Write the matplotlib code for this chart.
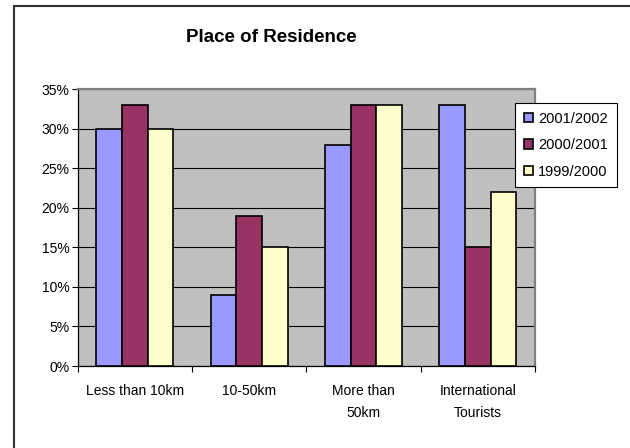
import numpy as np
import matplotlib
matplotlib.use("Agg")
import matplotlib.pyplot as plt
from matplotlib.patches import Rectangle
from matplotlib.ticker import PercentFormatter, FixedLocator

plt.rcParams['font.family'] = ['Liberation Sans', 'DejaVu Sans']

categories = ["Less than 10km", "10-50km", "More than\n50km", "International\nTourists"]
seasons = ["2001/2002", "2000/2001", "1999/2000"]
share_2001 = [30, 9, 28, 33]
share_2000 = [33, 19, 33, 15]
share_1999 = [30, 15, 33, 22]
colors = ["#9999FF", "#993366", "#FFFFCC"]

fig = plt.figure(figsize=(6.3, 4.48), dpi=100)
ax = fig.add_axes([77.7 / 630, 1 - 366 / 448, 457.3 / 630, 276.7 / 448])
ax.set_facecolor("#C0C0C0")

x = np.arange(len(categories))
w = 0.224
for i, (vals, c, lab) in enumerate(zip([share_2001, share_2000, share_1999], colors, seasons)):
    ax.bar(x + (i - 1) * w, vals, width=w, color=c, edgecolor="black",
           linewidth=1.2, label=lab, zorder=3)

ax.set_xlim(-0.5, len(categories) - 0.5)
ax.set_ylim(0, 35)
ax.set_yticks(np.arange(0, 36, 5))
ax.yaxis.set_major_formatter(PercentFormatter(decimals=0))
ax.yaxis.grid(True, color="black", linewidth=0.8, zorder=1)
ax.set_axisbelow(True)

ax.set_xticks(x)
ax.set_xticklabels(categories, fontsize=10, linespacing=1.75)
ax.xaxis.set_minor_locator(FixedLocator(np.arange(-0.5, len(categories), 1)))
ax.tick_params(axis="x", which="major", length=0, pad=13)
ax.tick_params(axis="x", which="minor", length=4, width=0.8, direction="out")
ax.tick_params(axis="y", length=4, width=0.8, pad=2, labelsize=10)

for s in ["top", "right"]:
    ax.spines[s].set_color("#808080")
    ax.spines[s].set_linewidth(1.6)
for s in ["left", "bottom"]:
    ax.spines[s].set_color("black")
    ax.spines[s].set_linewidth(0.9)

fig.text(271 / 630, 1 - 37 / 448, "Place of Residence", ha="center", va="center",
         fontsize=13.5, fontweight="bold")

leg = ax.legend(loc="upper left", bbox_to_anchor=(515 / 630, 1 - 103 / 448),
                bbox_transform=fig.transFigure, borderaxespad=0, fontsize=10.5,
                handlelength=0.6, handleheight=0.6, handletextpad=0.4,
                labelspacing=0.85, borderpad=0.6, fancybox=False,
                framealpha=1, edgecolor="black")
leg.get_frame().set_linewidth(0.8)
leg.set_zorder(5)

# outer chart border (only top and left edges fall inside the image)
fig.add_artist(Rectangle((14 / 630, -0.1), 1.0, 1.1 - 6 / 448,
                         transform=fig.transFigure, fill=False,
                         edgecolor="#333333", linewidth=1.5))

fig.savefig("out.png", dpi=100)
